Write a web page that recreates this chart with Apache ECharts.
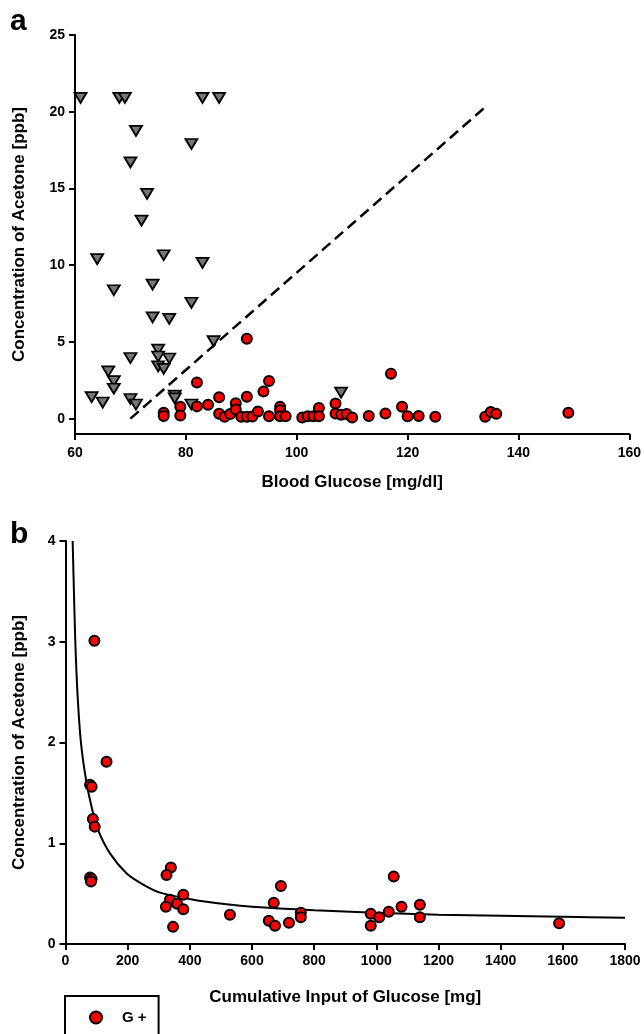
<!DOCTYPE html>
<html>
<head>
<meta charset="utf-8">
<script src="https://cdn.jsdelivr.net/npm/echarts@6/dist/echarts.min.js"></script>
<style>
  html, body { margin: 0; padding: 0; background: #ffffff; }
  #chart { width: 644px; height: 1034px; }
</style>
</head>
<body>
<div id="chart"></div>
<script>
// ---- Panel a: acetone vs. blood glucose ----
// G- measurements (grey down-triangles)
const glucoseNeg = [61, 68, 69, 83, 86, 71, 81, 70, 73, 72, 64, 76, 83, 67, 74, 81, 74, 77, 85,
                    70, 75, 75, 77, 75, 76, 66, 67, 67, 63, 65, 70, 71, 78, 78, 81, 108];
const acetoneNeg = [20.9, 20.9, 20.9, 20.9, 20.9, 18.75, 17.9, 16.7, 14.65, 12.9, 10.4, 10.65, 10.15, 8.37, 8.73, 7.55, 6.6, 6.5, 5.05,
                    3.95, 4.5, 4.05, 3.92, 3.41, 3.24, 3.08, 2.45, 1.95, 1.4, 1.05, 1.28, 0.92, 1.5, 1.32, 0.92, 1.7];
// G+ measurements (red circles)
const glucosePos = [91, 82, 95, 94, 117, 86, 91, 89, 84, 82, 79, 79, 76, 76, 86, 87, 88, 89, 90, 91, 92, 93, 95,
                    97, 97, 97, 98, 101, 102, 103, 104, 104, 107, 107, 108, 109, 110, 113, 116, 119, 120, 122, 125,
                    134, 135, 136, 149];
const acetonePos = [5.2, 2.36, 2.46, 1.77, 2.93, 1.4, 1.42, 1.0, 0.9, 0.8, 0.77, 0.2, 0.38, 0.18, 0.32, 0.12, 0.3, 0.6, 0.13, 0.13, 0.14, 0.47, 0.15,
                    0.77, 0.55, 0.15, 0.15, 0.08, 0.15, 0.15, 0.69, 0.15, 0.98, 0.33, 0.25, 0.3, 0.07, 0.17, 0.33, 0.77, 0.16, 0.17, 0.12,
                    0.13, 0.43, 0.32, 0.38];
// dashed separation line
const boundaryX = [70, 134];
const boundaryY = [0, 20.3];
const ticksAY = [0, 5, 10, 15, 20, 25];

// ---- Panel b: acetone vs. cumulative glucose input ----
const cumGlucose = [93, 132, 79, 84, 88, 94, 79, 84, 82, 339, 325, 379, 336, 359, 323, 379, 346,
                    529, 693, 670, 654, 674, 719, 757, 757, 1056, 982, 982, 1009, 1040, 1081, 1140, 1140, 1588];
const acetoneB   = [3.01, 1.81, 1.58, 1.56, 1.24, 1.165, 0.66, 0.645, 0.62, 0.76, 0.685, 0.49, 0.44, 0.40, 0.37, 0.345, 0.17,
                    0.29, 0.575, 0.41, 0.23, 0.18, 0.21, 0.31, 0.265, 0.67, 0.30, 0.18, 0.265, 0.32, 0.37, 0.39, 0.265, 0.205];
// fitted decay curve
const fitX = [23, 27, 31.5, 38, 49, 66, 84, 105, 143, 197, 250, 304, 411, 518, 600, 800, 995, 1200, 1400, 1600, 1800];
const fitY = [4.0, 3.51, 3.01, 2.52, 2.02, 1.63, 1.36, 1.13, 0.90, 0.70, 0.59, 0.51, 0.44, 0.395, 0.37, 0.335, 0.31, 0.29, 0.28, 0.27, 0.26];

const FONT = "'Liberation Sans', Arial, Helvetica, sans-serif";
const pairs = (xs, ys) => xs.map((x, i) => [x, ys[i]]);
const plain = v => String(v);

const axisLine = { show: true, onZero: false, lineStyle: { color: '#000', width: 2 } };
const tickStyle = { show: true, inside: false, length: 6, lineStyle: { color: '#000', width: 2 } };
const labelStyle = { color: '#000', fontFamily: FONT, fontWeight: 'bold', fontSize: 14, formatter: plain };
const nameStyle = { color: '#000', fontFamily: FONT, fontWeight: 'bold', fontSize: 17 };

const redCircle = { color: '#ff0000', borderColor: '#000', borderWidth: 2, opacity: 1 };

const chart = echarts.init(document.getElementById('chart'), null, { renderer: 'canvas' });
chart.setOption({
  animation: false,
  backgroundColor: '#fff',
  graphic: [
    { type: 'text', left: 10, top: 7, style: { text: 'a', font: 'bold 30px ' + FONT, fill: '#000' } },
    { type: 'text', left: 10, top: 520, style: { text: 'b', font: 'bold 30px ' + FONT, fill: '#000' } }
  ],
  legend: {
    data: ['G +'],
    left: 65, top: 996,
    orient: 'vertical',
    icon: 'circle',
    itemWidth: 42, itemHeight: 12,
    padding: [14, 12, 40, 24],
    borderColor: '#000', borderWidth: 2,
    textStyle: { color: '#000', fontFamily: FONT, fontWeight: 'bold', fontSize: 15 },
    selectedMode: false
  },
  grid: [
    { left: 75, right: 14, top: 35, bottom: 600, containLabel: false },
    { left: 65.5, right: 19, top: 541, bottom: 90, containLabel: false }
  ],
  xAxis: [
    {
      gridIndex: 0, type: 'value', min: 60, max: 160, interval: 20,
      name: 'Blood Glucose [mg/dl]', nameLocation: 'middle', nameGap: 40, nameTextStyle: nameStyle,
      axisLine: axisLine, axisTick: tickStyle, splitLine: { show: false },
      axisLabel: Object.assign({ margin: 12 }, labelStyle)
    },
    {
      gridIndex: 1, type: 'value', min: 0, max: 1800, interval: 200,
      name: 'Cumulative Input of Glucose [mg]', nameLocation: 'middle', nameGap: 45, nameTextStyle: nameStyle,
      axisLine: axisLine, axisTick: tickStyle, splitLine: { show: false },
      axisLabel: Object.assign({ margin: 10 }, labelStyle)
    }
  ],
  yAxis: [
    {
      gridIndex: 0, type: 'value', min: -1, max: 25,
      name: 'Concentration of Acetone [ppb]', nameLocation: 'middle', nameGap: 47, nameTextStyle: nameStyle,
      axisLine: axisLine,
      axisTick: Object.assign({ customValues: ticksAY }, tickStyle),
      splitLine: { show: false },
      axisLabel: Object.assign({ margin: 10, customValues: ticksAY }, labelStyle)
    },
    {
      gridIndex: 1, type: 'value', min: 0, max: 4, interval: 1,
      name: 'Concentration of Acetone [ppb]', nameLocation: 'middle', nameGap: 38, nameTextStyle: nameStyle,
      axisLine: axisLine, axisTick: tickStyle, splitLine: { show: false },
      axisLabel: Object.assign({ margin: 10 }, labelStyle)
    }
  ],
  series: [
    {
      name: 'boundary', type: 'line', xAxisIndex: 0, yAxisIndex: 0,
      data: pairs(boundaryX, boundaryY), symbol: 'none', silent: true,
      lineStyle: { color: '#000', width: 2.5, type: [11, 6] }, z: 1
    },
    {
      name: 'G -', type: 'scatter', xAxisIndex: 0, yAxisIndex: 0,
      data: pairs(glucoseNeg, acetoneNeg),
      symbol: 'triangle', symbolSize: [12, 10], symbolRotate: 180,
      itemStyle: { color: '#767676', borderColor: '#000', borderWidth: 1.8, opacity: 1 }, z: 2
    },
    {
      name: 'G +', type: 'scatter', xAxisIndex: 0, yAxisIndex: 0,
      data: pairs(glucosePos, acetonePos),
      symbol: 'circle', symbolSize: 10, itemStyle: redCircle, z: 3
    },
    {
      name: 'fit', type: 'line', xAxisIndex: 1, yAxisIndex: 1,
      data: pairs(fitX, fitY), smooth: 0.3, symbol: 'none', silent: true,
      lineStyle: { color: '#000', width: 2 }, z: 1
    },
    {
      name: 'G +', type: 'scatter', xAxisIndex: 1, yAxisIndex: 1,
      data: pairs(cumGlucose, acetoneB),
      symbol: 'circle', symbolSize: 10, itemStyle: redCircle, z: 3
    }
  ]
});
</script>
</body>
</html>
